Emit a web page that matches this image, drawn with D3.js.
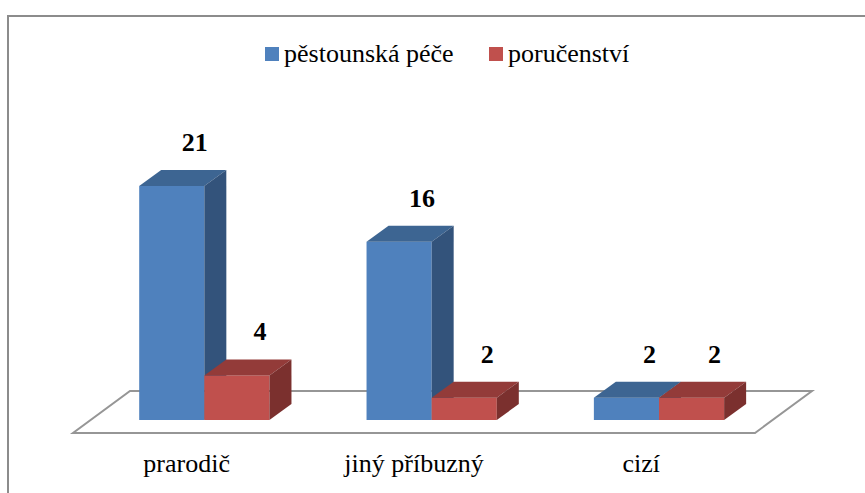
<!DOCTYPE html>
<html>
<head>
<meta charset="utf-8">
<script src="https://d3js.org/d3.v7.min.js"></script>
<style>
    body { margin: 0; background: #fff; }
</style>
</head>
<body>
<div id="chart"></div>
<script>
// data
let categories = ["prarodič", "jiný příbuzný", "cizí"];
let seriesNames = ["pěstounská péče", "poručenství"];
let pestounska = [21, 16, 2];
let porucenstvi = [4, 2, 2];

let width = 865;
let height = 493;
let serif = "Liberation Serif";

// colours: front, top, side
let colors = [
    {front: "#4f81bd", top: "#3d6592", side: "#33537b"},
    {front: "#c0504d", top: "#933b39", side: "#7b302e"}
];

let svg = d3.select("#chart")
    .append("svg")
    .attr("width", width)
    .attr("height", height);

// outer frame
svg.append("rect")
    .attr("x", 8)
    .attr("y", 16)
    .attr("width", 900)
    .attr("height", 520)
    .attr("fill", "#fff")
    .attr("stroke", "#8c8c8c")
    .attr("stroke-width", 2);

// floor geometry
let floorY = 433;
let depth = {dx: 57, dy: -42};
let x = d3.scaleBand()
    .domain(categories)
    .range([73, 755]);

let y = d3.scaleLinear()
    .domain([0, 21])
    .range([420, 186]);

// bars stand in the middle of the floor depth
let barShift = {dx: depth.dx * 0.31, dy: depth.dy * 0.31};
let barDepth = {dx: 22, dy: -16};
let groupWidth = x.bandwidth() * 0.573;
let xSub = d3.scaleBand()
    .domain(seriesNames)
    .range([0, groupWidth]);

// floor
let x0 = x.range()[0], x1 = x.range()[1];
svg.append("path")
    .attr("d", "M" + x0 + "," + floorY +
        "L" + x1 + "," + floorY +
        "L" + (x1 + depth.dx) + "," + (floorY + depth.dy) +
        "L" + (x0 + depth.dx) + "," + (floorY + depth.dy) + "Z")
    .attr("fill", "#fff")
    .attr("stroke", "#969696")
    .attr("stroke-width", 2);

let bars = [];
categories.forEach(function (c, i) {
    [pestounska[i], porucenstvi[i]].forEach(function (v, s) {
        let left = x(c) + (x.bandwidth() - groupWidth) / 2 + xSub(seriesNames[s]) + barShift.dx;
        bars.push({cat: c, s: s, v: v, left: left, right: left + xSub.bandwidth()});
    });
});

let base = y(0);
let g = svg.selectAll(".bar")
    .data(bars)
    .enter()
    .append("g")
    .attr("class", "bar");

// front face
g.append("rect")
    .attr("x", d => d.left)
    .attr("y", d => y(d.v))
    .attr("width", d => d.right - d.left)
    .attr("height", d => base - y(d.v))
    .attr("fill", d => colors[d.s].front);

// top face
g.append("path")
    .attr("d", function (d) {
        let t = y(d.v);
        return "M" + d.left + "," + t + "L" + d.right + "," + t +
            "L" + (d.right + barDepth.dx) + "," + (t + barDepth.dy) +
            "L" + (d.left + barDepth.dx) + "," + (t + barDepth.dy) + "Z";
    })
    .attr("fill", d => colors[d.s].top);

// side face
g.append("path")
    .attr("d", function (d) {
        let t = y(d.v);
        return "M" + d.right + "," + t + "L" + (d.right + barDepth.dx) + "," + (t + barDepth.dy) +
            "L" + (d.right + barDepth.dx) + "," + (base + barDepth.dy) +
            "L" + d.right + "," + base + "Z";
    })
    .attr("fill", d => colors[d.s].side);

// value labels
svg.selectAll(".value")
    .data(bars)
    .enter()
    .append("text")
    .attr("class", "value")
    .attr("x", d => (d.left + d.right) / 2 + 23)
    .attr("y", d => y(d.v) - 35)
    .attr("text-anchor", "middle")
    .attr("font-family", serif)
    .attr("font-size", 26)
    .attr("font-weight", "bold")
    .text(d => d.v);

// category labels
svg.selectAll(".cat")
    .data(categories)
    .enter()
    .append("text")
    .attr("class", "cat")
    .attr("x", d => x(d) + x.bandwidth() / 2)
    .attr("y", 472)
    .attr("text-anchor", "middle")
    .attr("font-family", serif)
    .attr("font-size", 26)
    .text(d => d);

// legend
let legendX = [265, 489];
let legend = svg.selectAll(".legend")
    .data(seriesNames)
    .enter()
    .append("g")
    .attr("class", "legend")
    .attr("transform", (d, i) => "translate(" + legendX[i] + ",47)");

legend.append("rect")
    .attr("width", 14)
    .attr("height", 14)
    .attr("fill", (d, i) => colors[i].front);

legend.append("text")
    .attr("x", 19)
    .attr("y", 15)
    .attr("font-family", serif)
    .attr("font-size", 26)
    .text(d => d);
</script>
</body>
</html>
